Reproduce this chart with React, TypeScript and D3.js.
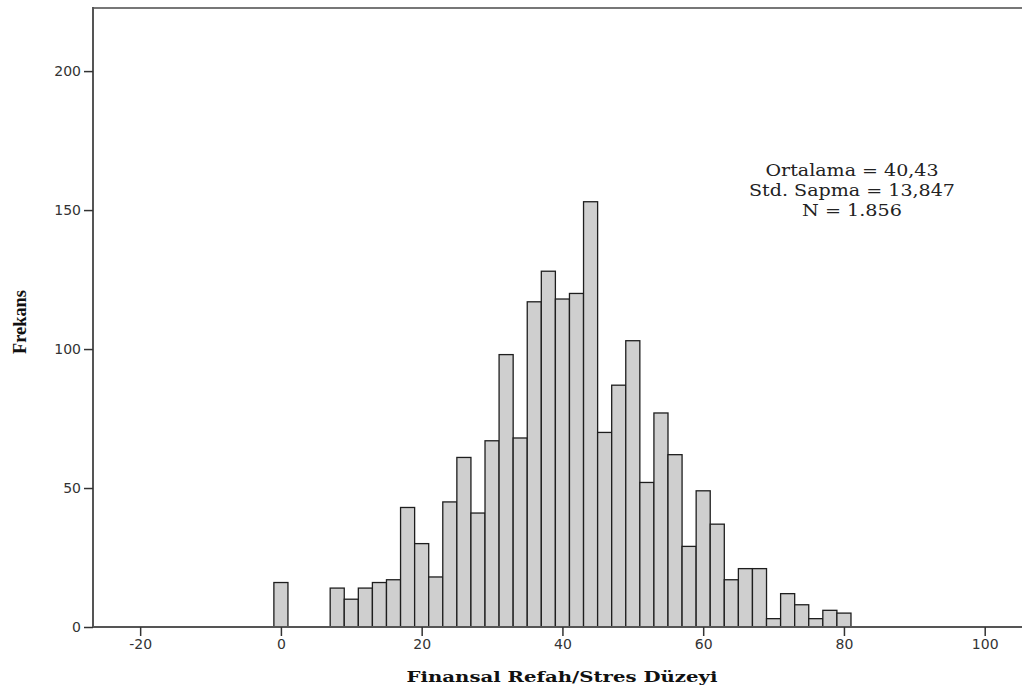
import React, { useEffect, useRef } from 'react';
import * as d3 from 'd3';

// bin centres (bin width 2) and frequencies
const binCenters = [0, 8, 10, 12, 14, 16, 18, 20, 22, 24, 26, 28, 30, 32, 34, 36, 38, 40, 42, 44, 46, 48, 50, 52, 54, 56, 58, 60, 62, 64, 66, 68, 70, 72, 74, 76, 78, 80];
const binCounts = [16, 14, 10, 14, 16, 17, 43, 30, 18, 45, 61, 41, 67, 98, 68, 117, 128, 118, 120, 153, 70, 87, 103, 52, 77, 62, 29, 49, 37, 17, 21, 21, 3, 12, 8, 3, 6, 5];
const binWidth = 2;
const xTicks = [-20, 0, 20, 40, 60, 80, 100];
const yTicks = [0, 50, 100, 150, 200];
const statLines = ['Ortalama = 40,43', 'Std.  Sapma = 13,847', 'N = 1.856'];
const statWidths = [173, 206, 100];

const App = () => {
    const ref = useRef<SVGSVGElement>(null);
    useEffect(() => {
        const svg = d3.select(ref.current);
        svg.selectAll('*').remove();
        const width = 1022, height = 688;
        const left = 93, top = 8, bottom = 627, right = 1022;

        const x = d3.scaleLinear().domain([-26.7, 105.3]).range([left, right]);
        const y = d3.scaleLinear().domain([0, 222.7]).range([bottom, top]);

        svg.attr('width', width).attr('height', height);

        const nodes = binCenters.map((c, i) => ({ c, n: binCounts[i] }));

        // bars
        svg.append('g')
            .selectAll('rect')
            .data(nodes)
            .enter()
            .append('rect')
            .attr('x', d => x(d.c - binWidth / 2))
            .attr('y', d => y(d.n))
            .attr('width', d => x(d.c + binWidth / 2) - x(d.c - binWidth / 2))
            .attr('height', d => y(0) - y(d.n))
            .attr('fill', '#cfcfcf')
            .attr('stroke', '#1e1e1e')
            .attr('stroke-width', 1.3);

        // frame: top border, left axis, bottom axis
        svg.append('line')
            .attr('x1', left).attr('x2', right).attr('y1', top).attr('y2', top)
            .attr('stroke', '#777').attr('stroke-width', 2);
        svg.append('line')
            .attr('x1', left).attr('x2', left).attr('y1', top - 1).attr('y2', bottom + 1)
            .attr('stroke', '#555').attr('stroke-width', 2);
        svg.append('line')
            .attr('x1', left).attr('x2', right).attr('y1', bottom).attr('y2', bottom)
            .attr('stroke', '#555').attr('stroke-width', 2);

        const fmt = (d: any) => String(d);

        // y axis
        const yAxis = svg.append('g')
            .attr('transform', `translate(${left},0)`)
            .call(d3.axisLeft(y).tickValues(yTicks).tickSize(9).tickPadding(3).tickFormat(fmt));
        yAxis.select('.domain').remove();
        yAxis.selectAll('line').attr('stroke', '#333').attr('stroke-width', 1.5);
        yAxis.selectAll('text')
            .attr('font-family', '"DejaVu Sans", Verdana, sans-serif')
            .attr('font-size', 14)
            .attr('fill', '#333');

        // x axis
        const xAxis = svg.append('g')
            .attr('transform', `translate(0,${bottom})`)
            .call(d3.axisBottom(x).tickValues(xTicks).tickSize(9).tickPadding(3).tickFormat(fmt));
        xAxis.select('.domain').remove();
        xAxis.selectAll('line').attr('stroke', '#333').attr('stroke-width', 1.5);
        xAxis.selectAll('text')
            .attr('font-family', '"DejaVu Sans", Verdana, sans-serif')
            .attr('font-size', 14)
            .attr('fill', '#333');

        // axis titles
        svg.append('text')
            .attr('x', 562).attr('y', 682)
            .attr('text-anchor', 'middle')
            .attr('font-family', '"DejaVu Serif", "Liberation Serif", serif')
            .attr('font-weight', 'bold')
            .attr('font-size', 15)
            .attr('textLength', 311)
            .attr('lengthAdjust', 'spacingAndGlyphs')
            .attr('fill', '#111')
            .text('Finansal Refah/Stres Düzeyi');

        svg.append('text')
            .attr('transform', 'translate(26,322) rotate(-90)')
            .attr('text-anchor', 'middle')
            .attr('font-family', '"Liberation Serif", "Times New Roman", serif')
            .attr('font-weight', 'bold')
            .attr('font-size', 18)
            .attr('textLength', 64)
            .attr('lengthAdjust', 'spacingAndGlyphs')
            .attr('fill', '#111')
            .text('Frekans');

        // summary statistics
        svg.append('g')
            .selectAll('text')
            .data(statLines)
            .enter()
            .append('text')
            .attr('x', 852)
            .attr('y', (d, i) => 176 + i * 20)
            .attr('text-anchor', 'middle')
            .attr('font-family', '"DejaVu Serif", serif')
            .attr('font-size', 17)
            .attr('textLength', (d, i) => statWidths[i])
            .attr('lengthAdjust', 'spacingAndGlyphs')
            .attr('fill', '#222')
            .text(d => d);
    }, []);

    return (
        <svg ref={ref} style={{ position: 'absolute', left: 0, top: 0, background: '#fff' }} />
    );
};

export default App;
